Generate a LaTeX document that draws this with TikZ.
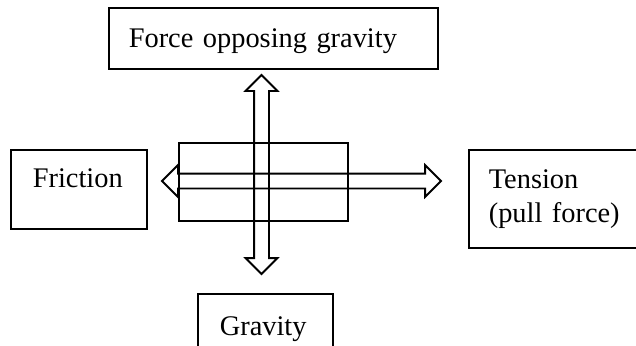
\documentclass[tikz,border=0pt]{standalone}
\usepackage{fontspec}
\setmainfont{Liberation Serif}
\usetikzlibrary{positioning, shapes.arrows}
\tikzset{
  every node/.style={font=\fontsize{14.2}{17}\selectfont},
  % labelled boxes round the block
  lbl/.style={draw, line width=0.8pt, align=left, anchor=north west,
              inner xsep=10pt, inner ysep=0pt},
  % the block itself
  blk/.style={draw, line width=0.8pt, inner sep=0pt},
  % hollow double arrows
  dbl/.style={draw, line width=0.9pt, shape=double arrow, inner xsep=0pt,
              inner ysep=3.25pt, double arrow head extend=4.25pt},
}

\begin{document}
\begin{tikzpicture}[x=0.5pt, y=-0.5pt]
\useasboundingbox (0,0) rectangle (636,345);
\clip (0,0) rectangle (636,345);
\node[blk, minimum width=84.5pt, minimum height=39pt] (block) at (263.5,182) {};
\node[dbl, minimum height=99.5pt, rotate=90] (updown) at (261.5,174.5) {};
\node[dbl, minimum height=139.5pt] (leftright) at (301.5,181) {};
\node[lbl, text width=144.5pt, text height=20pt, text depth=10.5pt] (lift) at (108,7) {Force opposing gravity};
\node[lbl, inner xsep=11pt, text width=46pt, text height=19pt, text depth=20.5pt] (fric) at (10,149) {Friction};
\node[lbl, text width=67pt, text height=19.5pt, text depth=29.5pt] (tens) at (468,149) {Tension\\(pull force)};
\node[lbl, inner xsep=11pt, text width=45.5pt, text height=21pt, text depth=9pt] (grav) at (197,293) {Gravity};
\end{tikzpicture}
\end{document}
